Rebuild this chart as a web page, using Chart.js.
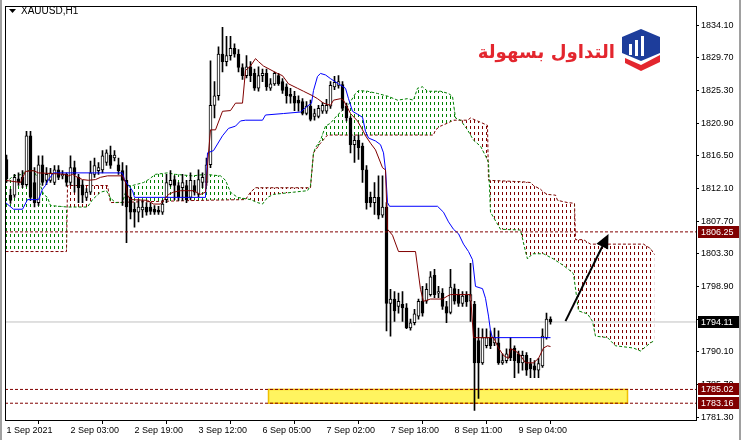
<!DOCTYPE html>
<html>
<head>
<meta charset="utf-8">
<script src="https://cdn.jsdelivr.net/npm/chart.js@4.4.0/dist/chart.umd.min.js"></script>
<style>
  html, body { margin: 0; padding: 0; background: #fff; }
  canvas { display: block; }
</style>
</head>
<body>
<canvas id="goldChart" width="745" height="440"></canvas>
<script>
// XAUUSD H1 candles, one entry per bar (bar 0 = first visible bar)
const opens = [
  1816.0, 1811.2, 1811.2, 1813.4, 1813.6, 1812.6, 1819.2, 1812.9, 1810.2, 1815.3,
  1813.2, 1813.2, 1812.9, 1814.6, 1813.8, 1814.0, 1812.9, 1814.9, 1813.6, 1812.6,
  1810.9, 1811.6, 1814.0, 1814.5, 1814.6, 1815.6, 1816.6, 1816.2, 1815.3, 1814.5,
  1813.2, 1810.9, 1809.3, 1808.9, 1809.2, 1809.6, 1809.6, 1809.3, 1809.2, 1808.9,
  1810.6, 1812.6, 1813.3, 1812.5, 1812.2, 1812.5, 1810.9, 1812.5, 1811.3, 1812.9,
  1812.9, 1815.3, 1823.3, 1824.6, 1830.2, 1829.2, 1830.0, 1831.0, 1830.2, 1828.4,
  1827.3, 1828.5, 1827.6, 1825.6, 1827.3, 1827.6, 1825.6, 1826.2, 1827.3, 1826.5,
  1825.8, 1824.8, 1824.5, 1824.0, 1823.8, 1822.2, 1823.2, 1821.8, 1821.8, 1822.5,
  1822.5, 1823.2, 1825.8, 1826.0, 1826.1, 1823.2, 1821.6, 1818.0, 1818.6, 1817.8,
  1814.6, 1810.9, 1810.2, 1810.9, 1808.5, 1809.6, 1796.6, 1797.2, 1796.2, 1796.5,
  1796.0, 1793.3, 1794.0, 1794.9, 1796.9, 1796.9, 1797.8, 1800.4, 1798.0, 1798.0,
  1796.2, 1795.4, 1798.6, 1797.8, 1796.6, 1797.7, 1796.9, 1796.5, 1791.6, 1788.6,
  1790.9, 1792.0, 1791.3, 1791.3, 1788.6, 1788.9, 1790.5, 1790.6, 1789.8, 1788.6,
  1789.6, 1788.5, 1788.2, 1787.6, 1788.2, 1792.0, 1794.5
];
const highs = [
  1816.6, 1812.0, 1814.0, 1814.2, 1814.5, 1819.8, 1819.8, 1814.9, 1816.5, 1816.5,
  1814.9, 1814.8, 1815.2, 1815.2, 1814.5, 1814.2, 1816.5, 1815.8, 1814.0, 1813.2,
  1812.1, 1815.8, 1816.2, 1815.6, 1817.2, 1817.3, 1817.8, 1817.2, 1816.2, 1815.6,
  1815.2, 1812.0, 1810.2, 1810.6, 1810.5, 1810.2, 1810.2, 1809.8, 1809.7, 1810.5,
  1814.0, 1814.5, 1813.8, 1812.9, 1814.0, 1813.2, 1814.2, 1813.2, 1814.6, 1814.2,
  1816.2, 1829.3, 1826.5, 1831.2, 1833.8, 1832.6, 1832.6, 1831.6, 1830.8, 1828.9,
  1830.0, 1829.2, 1828.2, 1828.5, 1828.2, 1828.2, 1826.9, 1827.8, 1827.6, 1826.9,
  1826.2, 1825.6, 1825.2, 1824.6, 1824.2, 1823.8, 1824.0, 1822.8, 1823.3, 1823.7,
  1824.1, 1826.5, 1827.2, 1827.3, 1826.5, 1823.6, 1821.8, 1819.2, 1819.3, 1818.2,
  1815.2, 1811.6, 1812.9, 1813.8, 1813.8, 1810.2, 1798.5, 1798.2, 1798.0, 1798.2,
  1796.6, 1794.5, 1795.8, 1797.2, 1798.9, 1799.3, 1800.9, 1801.2, 1798.9, 1798.6,
  1796.9, 1801.2, 1799.2, 1798.5, 1798.2, 1798.2, 1802.0, 1796.9, 1793.3, 1793.2,
  1793.2, 1792.9, 1793.3, 1792.9, 1789.8, 1790.5, 1792.0, 1790.9, 1790.2, 1790.2,
  1790.0, 1789.2, 1788.9, 1789.2, 1793.2, 1795.3, 1794.8
];
const lows = [
  1812.9, 1810.1, 1810.9, 1812.5, 1812.2, 1812.4, 1810.5, 1809.6, 1809.8, 1812.5,
  1812.6, 1812.9, 1812.6, 1813.3, 1813.4, 1812.4, 1812.5, 1811.6, 1810.2, 1810.2,
  1810.5, 1811.3, 1813.6, 1814.0, 1814.2, 1815.2, 1814.8, 1815.8, 1814.0, 1809.8,
  1804.8, 1808.0, 1806.9, 1807.6, 1808.2, 1808.5, 1808.6, 1808.6, 1808.6, 1808.6,
  1810.2, 1812.4, 1810.6, 1810.5, 1810.5, 1810.2, 1810.6, 1811.2, 1811.0, 1812.2,
  1812.5, 1814.9, 1821.6, 1824.0, 1827.8, 1828.6, 1829.4, 1829.8, 1827.8, 1826.8,
  1827.0, 1826.5, 1825.3, 1825.2, 1826.5, 1825.3, 1825.3, 1826.0, 1826.0, 1824.9,
  1823.6, 1823.6, 1822.6, 1822.5, 1822.0, 1822.0, 1821.2, 1821.3, 1821.6, 1822.2,
  1822.2, 1822.9, 1825.4, 1825.6, 1822.6, 1821.2, 1816.9, 1815.6, 1816.0, 1812.9,
  1809.3, 1809.6, 1808.6, 1808.0, 1808.2, 1792.9, 1792.2, 1794.2, 1795.3, 1794.2,
  1793.2, 1793.0, 1793.7, 1794.5, 1794.9, 1796.6, 1797.6, 1797.4, 1797.4, 1795.8,
  1794.0, 1795.2, 1796.5, 1796.2, 1796.2, 1796.2, 1794.2, 1782.2, 1783.8, 1788.4,
  1790.6, 1790.5, 1790.9, 1788.4, 1788.4, 1788.6, 1788.9, 1786.6, 1787.2, 1787.6,
  1786.9, 1786.6, 1786.6, 1786.6, 1788.0, 1791.8, 1793.8
];
const closes = [
  1813.4, 1810.5, 1813.6, 1813.0, 1812.6, 1819.2, 1810.9, 1810.2, 1815.3, 1812.9,
  1814.0, 1814.2, 1814.6, 1813.6, 1814.0, 1812.9, 1814.9, 1814.0, 1812.2, 1811.2,
  1811.6, 1814.2, 1815.2, 1814.9, 1816.5, 1816.9, 1815.2, 1816.6, 1814.5, 1813.2,
  1809.6, 1808.9, 1808.9, 1809.6, 1809.6, 1808.9, 1809.0, 1808.9, 1808.9, 1810.0,
  1812.9, 1813.2, 1812.5, 1810.9, 1812.9, 1810.6, 1813.2, 1811.6, 1813.3, 1813.6,
  1815.3, 1823.3, 1824.6, 1830.2, 1829.2, 1830.0, 1831.0, 1830.2, 1828.4, 1827.3,
  1828.5, 1827.3, 1825.6, 1827.3, 1827.6, 1825.8, 1826.2, 1827.6, 1826.2, 1825.3,
  1824.6, 1824.5, 1823.6, 1823.6, 1822.2, 1823.2, 1821.4, 1822.2, 1822.9, 1823.3,
  1823.3, 1826.0, 1826.4, 1826.5, 1822.9, 1821.6, 1818.0, 1818.6, 1817.6, 1814.6,
  1810.2, 1810.2, 1810.9, 1808.5, 1809.6, 1796.6, 1797.2, 1795.6, 1796.9, 1796.0,
  1793.3, 1794.0, 1795.2, 1796.9, 1795.3, 1798.5, 1800.2, 1797.8, 1798.2, 1796.2,
  1795.3, 1798.8, 1796.9, 1796.6, 1797.6, 1796.8, 1797.8, 1788.6, 1788.6, 1792.0,
  1792.0, 1790.9, 1792.0, 1788.6, 1788.9, 1789.8, 1789.3, 1788.9, 1788.6, 1789.6,
  1787.6, 1787.8, 1787.6, 1788.5, 1792.2, 1794.5, 1794.1
];

// Ichimoku lines as [bar, price]
const tenkan = [
  [-0.25, 1813.2], [3.5, 1812.9], [4.75, 1814.4], [6.75, 1814.5], [8, 1814.2], [11.75, 1814.1],
  [14.75, 1814.0], [15.5, 1813.8], [16.5, 1814.0], [17.75, 1813.6], [19, 1813.3], [20.5, 1813.2],
  [22.25, 1813.3], [23.5, 1813.6], [25.25, 1813.8], [29, 1813.8], [29.75, 1812.9], [30.25, 1811.2],
  [31, 1810.6], [35.25, 1810.5], [36.75, 1810.0], [38.5, 1810.0], [39.25, 1810.5], [40.5, 1811.3],
  [41.75, 1811.6], [43.5, 1811.8], [46.75, 1811.8], [48.5, 1811.3], [49.75, 1811.6], [50.5, 1816.9],
  [51, 1820.0], [52.25, 1820.0], [54, 1822.5], [56, 1822.6], [57.25, 1823.6], [59, 1823.6],
  [59.75, 1828.0], [61, 1828.6], [62.25, 1829.6], [63, 1829.2], [64.25, 1828.6], [67.75, 1827.6],
  [69, 1827.3], [70.5, 1826.2], [72.75, 1825.6], [74.25, 1825.2], [76.5, 1824.6], [77.75, 1824.2],
  [79.25, 1823.6], [81, 1823.3], [81.75, 1824.0], [83.5, 1824.2], [84.25, 1824.0], [86, 1822.2],
  [87.75, 1821.2], [89, 1820.0], [89.75, 1819.2], [91, 1818.2], [92.25, 1817.3], [94, 1814.9],
  [94.75, 1814.6], [95.25, 1806.6], [96.5, 1805.8], [98, 1803.6], [102.25, 1803.6], [103.5, 1798.5],
  [104.25, 1796.9], [106, 1797.2], [109, 1797.2], [110.25, 1797.6], [111, 1797.8], [116, 1797.8],
  [116.75, 1792.0], [121.75, 1792.0], [123, 1790.6], [124.25, 1789.6], [125.5, 1789.2], [126, 1790.5],
  [127.25, 1790.2], [128.5, 1789.6], [129.75, 1788.6], [131.75, 1788.6], [133, 1789.2], [134.25, 1790.6],
  [135.25, 1790.9], [136, 1790.8]
];
const kijun = [
  [-0.25, 1810.2], [1.75, 1809.3], [4, 1809.3], [5.25, 1810.6], [8, 1810.6], [9, 1812.0],
  [9.75, 1812.5], [10.5, 1813.3], [11.75, 1814.2], [29, 1814.2], [29.5, 1813.3], [30.5, 1812.5],
  [31.5, 1811.8], [32, 1810.9], [49.75, 1810.9], [50.25, 1816.9], [51.75, 1817.2], [54, 1819.2],
  [55.5, 1820.2], [57.25, 1820.5], [58.5, 1821.2], [59.75, 1821.3], [64, 1821.3], [64.75, 1822.0],
  [69.25, 1822.2], [73.5, 1822.4], [75.25, 1823.2], [76.25, 1823.6], [76.75, 1825.3], [77.75, 1827.2],
  [78.5, 1827.6], [79.75, 1827.4], [81, 1826.9], [83, 1826.2], [84.75, 1825.6], [85.5, 1824.2],
  [86.5, 1822.5], [87.75, 1822.1], [89, 1821.7], [89.75, 1819.8], [90.5, 1818.9], [92.25, 1818.5],
  [93.5, 1818.0], [94.25, 1816.9], [94.75, 1814.6], [95.25, 1810.2], [95.75, 1809.7], [107.75, 1809.7],
  [109.25, 1808.9], [110.5, 1807.6], [111.75, 1806.6], [113, 1806.0], [114.25, 1804.6], [115.5, 1803.6],
  [116.5, 1802.5], [117.25, 1798.9], [119, 1798.6], [119.75, 1797.3], [120.5, 1794.9], [121, 1792.9],
  [121.5, 1792.0], [136, 1792.0]
];
const spanA = [
  [-0.25, 1812.9], [1.75, 1813.8], [4, 1814.0], [4.75, 1814.5], [6.75, 1814.5], [8, 1813.3],
  [9.25, 1811.3], [10.25, 1810.9], [11, 1809.8], [15.25, 1809.6], [20.25, 1809.6], [21.5, 1810.6],
  [23.5, 1811.6], [25, 1811.8], [26, 1810.8], [27.25, 1810.2], [29, 1810.2], [30.25, 1812.5],
  [31.5, 1812.5], [34.25, 1812.9], [35.5, 1813.3], [37.25, 1814.0], [40.25, 1814.2], [42.25, 1814.0],
  [46.5, 1813.8], [49.75, 1814.0], [53.5, 1813.8], [54.75, 1813.2], [56, 1811.6], [57.75, 1810.9],
  [61, 1810.6], [62.75, 1810.2], [64, 1810.0], [65.25, 1810.9], [66.75, 1811.3], [71.75, 1811.6],
  [75.25, 1811.8], [76, 1812.5], [76.75, 1816.9], [77.25, 1817.6], [78.5, 1818.6], [79.75, 1820.5],
  [81, 1820.9], [82.75, 1822.0], [85.25, 1823.2], [86, 1823.8], [87.25, 1824.9], [88, 1825.3],
  [90.25, 1825.2], [92.75, 1824.9], [95.5, 1824.5], [97.75, 1824.0], [100.25, 1824.2], [101.75, 1824.0],
  [102.75, 1825.6], [104, 1825.8], [105.25, 1825.2], [108.5, 1825.2], [110.5, 1824.9], [111.5, 1824.5],
  [112.25, 1821.6], [113.5, 1821.3], [115.25, 1820.0], [116.75, 1818.6], [118.5, 1817.8], [119.75, 1816.5],
  [120.5, 1815.6], [121, 1808.9], [123.5, 1806.6], [128.5, 1806.5], [129.75, 1803.6], [130.25, 1802.6],
  [131.5, 1803.3], [134.25, 1803.3], [136.75, 1802.6], [139, 1801.8], [140.5, 1801.2], [141.75, 1800.6],
  [143, 1795.6], [145.25, 1795.2], [146.5, 1794.2], [147.25, 1792.2], [150.25, 1792.0], [152.25, 1790.9],
  [156.75, 1790.6], [158.5, 1790.2], [161, 1791.3], [162, 1791.6]
];
const spanB = [
  [-0.25, 1803.6], [15, 1803.6], [15.25, 1812.5], [25.25, 1812.5], [26, 1810.2], [48.5, 1810.5],
  [59.75, 1810.6], [61, 1811.6], [62.25, 1812.2], [76, 1812.2], [76.75, 1816.9], [78.5, 1818.2],
  [80.25, 1819.3], [106.75, 1819.3], [107.25, 1820.0], [108.5, 1820.5], [110.25, 1820.9], [111.75, 1821.3],
  [115.25, 1821.3], [116, 1821.6], [117.75, 1821.2], [120.25, 1820.6], [120.5, 1813.2], [129, 1813.0],
  [131, 1812.9], [131.75, 1812.5], [133.5, 1812.0], [134.25, 1811.6], [135.25, 1811.3], [137.25, 1811.2],
  [137.75, 1810.5], [140.25, 1810.2], [142, 1810.1], [142.25, 1805.2], [144.25, 1805.2], [146, 1804.6],
  [159.25, 1804.6], [161, 1804.0], [162, 1803.2]
];

const xTickBars = [0, 16, 32, 48, 64, 80, 96, 112, 128];
const xTickLabels = ['1 Sep 2021', '2 Sep 03:00', '2 Sep 19:00', '3 Sep 12:00', '6 Sep 05:00',
                     '7 Sep 02:00', '7 Sep 18:00', '8 Sep 11:00', '9 Sep 04:00'];
const yTickValues = [1781.30, 1785.70, 1790.10, 1794.50, 1798.90, 1803.30, 1807.70,
                     1812.10, 1816.50, 1820.90, 1825.30, 1829.70, 1834.10];

const levelPrices = [1806.25, 1785.02, 1783.16];
const bidPrice = 1794.11;
const zoneBars = [65.5, 155.25];
const zonePrices = [1783.16, 1785.02];
const arrowBars = [139.75, 150.5];
const arrowPrices = [1794.23, 1805.97];

const X_MIN = -0.375, X_MAX = 172.375;
const MAROON = '#800000';
const GREEN = '#008000';

const canvas = document.getElementById('goldChart');
const ctx = canvas.getContext('2d');
Chart.defaults.font.family = '"Liberation Sans", Arial, sans-serif';
Chart.defaults.font.size = 9;
Chart.defaults.color = '#000';

// vertical dashed hatching used by MT4 for the cloud
function hatch(color) {
    const tile = document.createElement('canvas');
    tile.width = 4;
    tile.height = 6;
    const g = tile.getContext('2d');
    g.fillStyle = color;
    g.fillRect(2, 0, 1, 3);
    return ctx.createPattern(tile, 'repeat');
}

const toPoints = arr => arr.map(p => ({ x: p[0], y: p[1] }));
const flatLine = price => [{ x: X_MIN, y: price }, { x: X_MAX, y: price }];
const bars = opens.map((o, i) => i);

const lineBase = { type: 'line', pointRadius: 0, borderWidth: 1, tension: 0, fill: false };

const datasets = [
    Object.assign({}, lineBase, { label: 'Span B', data: toPoints(spanB), borderColor: MAROON, borderDash: [3, 2], order: 10 }),
    Object.assign({}, lineBase, { label: 'Span A', data: toPoints(spanA), borderColor: GREEN, borderDash: [3, 2], order: 9,
        fill: { target: 0, above: hatch(GREEN), below: hatch(MAROON) } }),
    Object.assign({}, lineBase, { label: 'Bid', data: flatLine(bidPrice), borderColor: '#c0c0c0', order: 8 }),
    {
        type: 'bar', label: 'Wicks', order: 5, grouped: false, barThickness: 1,
        data: bars.map(i => ({ x: i, y: [lows[i], highs[i]] })),
        backgroundColor: '#000', borderWidth: 0
    },
    {
        type: 'bar', label: 'Bodies', order: 4, grouped: false, barThickness: 3, minBarLength: 1,
        data: bars.map(i => ({ x: i, y: [opens[i], closes[i]] })),
        backgroundColor: bars.map(i => closes[i] >= opens[i] ? '#fff' : '#000'),
        borderColor: '#000', borderWidth: 1, borderSkipped: false
    },
    Object.assign({}, lineBase, { label: 'Kijun', data: toPoints(kijun), borderColor: '#0000ff', order: 3 }),
    Object.assign({}, lineBase, { label: 'Tenkan', data: toPoints(tenkan), borderColor: MAROON, order: 2 })
];
levelPrices.forEach(p => datasets.push(Object.assign({}, lineBase, {
    label: 'Level ' + p, data: flatLine(p), borderColor: MAROON, borderDash: [3, 2], order: 1
})));

const zonePlugin = {
    id: 'zone',
    beforeDatasetsDraw(chart) {
        const xs = chart.scales.x, ys = chart.scales.y;
        const x1 = xs.getPixelForValue(zoneBars[0]), x2 = xs.getPixelForValue(zoneBars[1]);
        const y1 = ys.getPixelForValue(zonePrices[1]), y2 = ys.getPixelForValue(zonePrices[0]);
        const c = chart.ctx;
        c.save();
        c.fillStyle = '#fff45f';
        c.fillRect(x1, y1, x2 - x1, y2 - y1);
        c.strokeStyle = '#f0c000';
        c.lineWidth = 1.5;
        c.strokeRect(x1, y1, x2 - x1, y2 - y1);
        c.restore();
    }
};

const arrowPlugin = {
    id: 'arrow',
    afterDatasetsDraw(chart) {
        const xs = chart.scales.x, ys = chart.scales.y;
        const x0 = xs.getPixelForValue(arrowBars[0]), y0 = ys.getPixelForValue(arrowPrices[0]);
        const x1 = xs.getPixelForValue(arrowBars[1]), y1 = ys.getPixelForValue(arrowPrices[1]);
        const ang = Math.atan2(y1 - y0, x1 - x0);
        const head = 14, half = 6.5;
        const bx = x1 - head * Math.cos(ang), by = y1 - head * Math.sin(ang);
        const c = chart.ctx;
        c.save();
        c.strokeStyle = '#000';
        c.fillStyle = '#000';
        c.lineWidth = 2;
        c.beginPath();
        c.moveTo(x0, y0);
        c.lineTo(bx, by);
        c.stroke();
        c.beginPath();
        c.moveTo(x1, y1);
        c.lineTo(bx + half * Math.sin(ang), by - half * Math.cos(ang));
        c.lineTo(bx - half * Math.sin(ang), by + half * Math.cos(ang));
        c.closePath();
        c.fill();
        c.restore();
    }
};

function drawLogo(c) {
    // Arabic brand text
    c.save();
    c.fillStyle = '#e3262e';
    c.textAlign = 'right';
    c.textBaseline = 'alphabetic';
    const txt = 'التداول بسهولة';
    c.font = 'bold 22px "DejaVu Sans"';
    const w = c.measureText(txt).width;
    const size = 22 * 137 / w;
    c.font = 'bold ' + size.toFixed(1) + 'px "DejaVu Sans"';
    c.fillText(txt, 615, 58);
    // badge
    c.fillStyle = '#1d3d9b';
    c.beginPath();
    c.moveTo(641, 29); c.lineTo(660, 37); c.lineTo(660, 53);
    c.lineTo(641, 61); c.lineTo(622, 53); c.lineTo(622, 37);
    c.closePath();
    c.fill();
    c.fillStyle = '#fff';
    c.fillRect(629, 44, 3, 11);
    c.fillRect(635, 40, 3, 16);
    c.fillRect(641, 36, 3, 20);
    c.fillStyle = '#e3262e';
    c.beginPath();
    c.moveTo(625, 58); c.lineTo(641, 65); c.lineTo(660, 55);
    c.lineTo(660, 62); c.lineTo(641, 71); c.lineTo(625, 63);
    c.closePath();
    c.fill();
    c.restore();
}

const framePlugin = {
    id: 'frame',
    beforeDraw(chart) {
        const c = chart.ctx;
        c.save();
        c.fillStyle = '#fff';
        c.fillRect(0, 0, chart.width, chart.height);
        c.restore();
    },
    afterDraw(chart) {
        const c = chart.ctx, a = chart.chartArea, ys = chart.scales.y;
        c.save();
        c.strokeStyle = '#000';
        c.lineWidth = 1;
        c.strokeRect(Math.floor(a.left) + 0.5, Math.floor(a.top) - 0.5,
                     Math.round(a.right - a.left), Math.round(a.bottom - a.top) + 1);
        // side strips of the window
        c.fillStyle = '#a0a0a0';
        c.fillRect(0, 0, 2, chart.height);
        c.fillRect(739, 0, 2, chart.height);
        // price tags on the axis
        const tags = [[levelPrices[0], MAROON], [bidPrice, '#000'], [levelPrices[1], MAROON], [levelPrices[2], MAROON]];
        c.font = '9px "Liberation Sans"';
        c.textBaseline = 'middle';
        tags.forEach(t => {
            const y = Math.round(ys.getPixelForValue(t[0]));
            c.fillStyle = t[1];
            c.fillRect(698, y - 6, 41, 12);
            c.fillStyle = '#fff';
            c.fillText(t[0].toFixed(2), 701, y + 0.5);
        });
        // symbol title
        c.fillStyle = '#000';
        c.beginPath();
        c.moveTo(9, 9); c.lineTo(16, 9); c.lineTo(12.5, 13);
        c.closePath();
        c.fill();
        c.font = '10px "Liberation Sans"';
        c.fillText('XAUUSD,H1', 21, 11.5);
        c.restore();
        drawLogo(c);
    }
};

new Chart(ctx, {
    type: 'bar',
    data: { datasets: datasets },
    options: {
        responsive: false,
        animation: false,
        events: [],
        layout: { padding: { left: 5, top: 3, right: 0, bottom: 0 } },
        scales: {
            x: {
                type: 'linear',
                min: X_MIN,
                max: X_MAX,
                offset: false,
                afterFit: s => { s.height = 20; },
                afterBuildTicks: s => { s.ticks = xTickBars.map(v => ({ value: v })); },
                grid: { drawOnChartArea: false, tickLength: 4, color: '#000' },
                border: { display: false },
                ticks: {
                    align: 'start',
                    maxRotation: 0,
                    autoSkip: false,
                    padding: 1,
                    callback: v => xTickLabels[xTickBars.indexOf(v)]
                }
            },
            y: {
                type: 'linear',
                position: 'right',
                min: 1780.9,
                max: 1836.5,
                afterFit: s => { s.width = 49; },
                afterBuildTicks: s => { s.ticks = yTickValues.map(v => ({ value: v })); },
                grid: { drawOnChartArea: false, tickLength: 3, color: '#000' },
                border: { display: false },
                ticks: { padding: 2, callback: v => v.toFixed(2) }
            }
        },
        plugins: {
            legend: { display: false },
            tooltip: { enabled: false }
        }
    },
    plugins: [framePlugin, zonePlugin, arrowPlugin]
});
</script>
</body>
</html>
